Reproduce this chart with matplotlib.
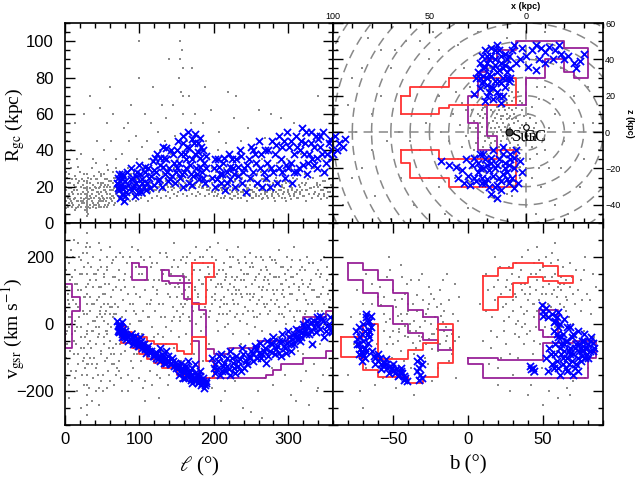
import numpy as np
import matplotlib
matplotlib.use("Agg")
import matplotlib.pyplot as plt
from matplotlib.ticker import MultipleLocator

# ---------------- data ----------------
# background stars in the (l, Rgc, vgsr) panels: (l deg, Rgc kpc, vgsr km/s)
GRAY_LRV = [
    (1,12,40),(2,18,-30),(3,25,110),(4,9,-120),(5,33,60),(6,15,180),(7,22,-80),(8,40,20),(9,11,140),
    (2,28,-160),(4,14,90),(6,19,-10),(8,30,220),(3,45,-60),(9,17,30),
    (11,10,70),(12,21,-50),(13,14,160),(14,26,10),(15,8,-140),(16,18,120),(17,31,-90),(18,12,50),
    (19,23,200),(13,55,-20),(16,35,-200),
    (21,9,100),(22,16,-40),(23,24,150),(24,12,-110),(25,19,30),(26,27,-180),(27,7,80),(28,14,230),
    (22,38,-10),(25,11,-70),
    (30,4,270),(30,6,210),(30,8,150),(30,10,90),(30,12,30),(30,14,-30),(30,16,-90),(30,18,-150),
    (30,20,-210),(30,22,-270),(31,5,120),(31,9,-60),(31,13,0),(31,17,-120),(31,25,180),(29,7,-240),
    (29,11,60),(29,15,240),(29,19,-180),(29,27,-20),
    (33,10,40),(34,22,-100),(35,14,170),(36,30,-20),(37,9,-160),(38,18,110),(39,26,60),(34,70,-50),
    (36,12,-230),(38,35,10),
    (41,8,-60),(42,15,130),(43,24,20),(44,11,-150),(45,19,80),(46,28,-30),(47,13,190),(48,21,-90),
    (49,9,50),(42,33,-200),(44,17,160),(46,10,-10),(48,26,110),(43,45,-120),(47,63,30),(45,14,240),
    (49,22,-170),
    (51,12,90),(52,20,-40),(53,27,150),(54,10,-110),(55,17,40),(56,24,-190),(57,14,200),(58,29,0),
    (59,11,-70),(52,40,60),(54,18,120),(56,55,-20),(58,21,-140),(53,13,10),(57,32,170),
    (61,16,-50),(62,23,80),(63,12,-120),(64,28,140),(65,18,20),(66,14,-180),(67,25,60),(68,20,-30),
    (69,30,110),(62,45,-90),(64,60,190),(66,19,30),(68,35,-150),
    (71,17,50),(72,22,-110),(73,15,160),(74,28,-60),(75,19,100),(76,24,-200),(77,38,20),(78,16,-20),
    (79,52,130),(74,20,210),
    (81,19,-80),(82,25,40),(83,14,180),(84,30,-150),(85,21,90),(86,45,-40),(87,18,0),(88,27,140),
    (89,65,-110),
    (91,20,60),(92,16,-130),(93,28,110),(94,22,-20),(95,48,170),(96,18,30),(97,35,-90),(98,24,220),
    (99,100,-60),
    (101,19,80),(102,26,-110),(103,17,150),(104,42,-30),(105,21,40),(106,30,190),(107,60,-170),(108,18,100),
    (111,22,-50),(112,19,130),(113,35,20),(114,25,-140),(115,55,70),(116,20,170),(117,28,-10),(118,75,110),
    (121,21,40),(122,18,-100),(123,33,180),(124,24,90),(125,50,-30),(126,20,130),(127,40,-160),(128,23,210),
    (131,22,60),(132,27,-120),(133,19,160),(134,45,20),(135,25,-60),(136,58,120),(137,21,200),(138,30,-180),
    (141,24,80),(142,20,-20),(143,38,150),(144,26,-130),(145,65,50),(146,22,190),(147,30,-70),(148,48,110),
    (151,25,40),(152,21,170),(153,80,-40),(154,90,130),(155,100,20),(156,72,-110),(157,95,90),(158,85,200),
    (155,24,-170),(156,28,60),(159,60,140),(152,35,-80),
    (161,22,100),(162,27,-30),(163,20,180),(164,45,70),(165,25,-150),(166,30,130),(167,70,20),(168,23,210),
    (169,55,-60),
    (171,24,150),(172,20,40),(173,35,-90),(174,26,190),(175,60,110),(176,22,0),(177,30,-170),(178,48,80),
    (181,21,160),(182,25,60),(183,40,-20),(184,19,120),(185,28,200),(186,55,-110),(187,23,30),(188,75,140),
    (191,20,100),(192,26,170),(193,18,20),(194,36,-60),(195,24,230),(196,62,130),(197,22,-190),(198,30,60),
    (201,17,140),(202,23,70),(203,28,190),(204,15,10),(205,40,120),(206,20,-20),(207,50,160),(208,25,50),
    (209,19,-230),
    (211,18,110),(212,24,30),(213,14,180),(214,30,80),(215,21,-10),(216,44,150),(217,17,220),(218,26,60),
    (219,72,0),
    (221,16,120),(222,22,40),(223,28,170),(224,13,90),(225,35,-30),(226,19,200),(227,58,110),(228,24,20),
    (229,15,-170),
    (231,20,140),(232,27,60),(233,14,190),(234,38,100),(235,22,10),(236,17,160),(237,45,-60),(238,25,80),
    (239,18,-250),
    (241,16,130),(242,23,50),(243,30,180),(244,12,90),(245,19,0),(246,52,150),(247,26,-30),(248,15,210),
    (249,21,70),
    (251,18,120),(252,24,40),(253,14,170),(254,32,90),(255,20,-10),(256,41,140),(257,16,200),(258,27,60),
    (259,22,-200),
    (261,15,110),(262,21,30),(263,28,160),(264,13,80),(265,35,-20),(266,18,190),(267,24,130),(268,47,50),
    (269,16,-160),
    (271,17,100),(272,23,160),(273,14,30),(274,30,120),(275,20,-30),(276,26,200),(277,60,70),(278,15,-130),
    (281,18,140),(282,12,60),(283,25,180),(284,21,10),(285,33,100),(286,16,-40),(287,40,220),(288,22,50),
    (291,14,120),(292,20,30),(293,27,170),(294,17,80),(295,45,-150),(296,23,150),(297,12,0),(298,35,200),
    (301,16,110),(302,22,40),(303,13,170),(304,30,-210),(305,19,90),(306,25,140),(307,55,20),(308,15,230),
    (311,18,70),(312,24,150),(313,14,-80),(314,29,110),(315,20,190),(316,16,40),(317,38,-170),(318,22,130),
    (321,15,90),(322,21,160),(323,27,30),(324,12,-140),(325,18,200),(326,33,110),(327,24,60),(328,16,-240),
    (331,19,130),(332,14,60),(333,25,180),(334,20,-120),(335,30,100),(336,17,20),(337,42,150),(338,22,-200),
    (341,16,80),(342,21,140),(343,26,-60),(344,13,190),(345,35,40),(346,18,-150),(347,23,110),(348,15,60),
    (350,28,-100),(352,19,170),(354,24,50),(356,30,-30),(358,20,120),(359,40,10),
    # second pass over the denser areas
    (1,20,-100),(2,8,160),(3,15,-20),(4,22,70),(5,11,-180),(6,27,20),(7,13,130),(8,19,-140),(9,24,80),
    (10,9,-30),(11,16,200),(12,13,-90),(13,20,120),(14,7,-160),(15,24,60),(16,12,-10),(17,16,240),
    (18,22,-120),(19,10,20),(20,28,150),(21,14,-70),(22,20,190),(23,11,-150),(24,17,40),(25,23,-100),
    (26,13,170),(27,19,-40),(28,9,110),(29,23,-120),(32,13,-190),(33,19,80),(34,8,130),(35,24,-70),
    (36,16,60),(37,21,-20),(38,11,200),(39,14,-100),(40,20,10),(41,24,150),(42,10,-130),(43,17,70),
    (44,22,-40),(45,9,110),(46,16,-190),(47,20,40),(48,12,170),(49,27,-80),(50,15,20),(51,22,-150),
    (52,9,140),(53,18,-60),(54,24,90),(55,12,-20),(56,20,160),(57,16,-100),(58,10,60),(59,23,120),
    (60,14,-170),(61,20,50),(62,13,-10),(63,18,180),(64,22,-70),(65,15,100),(66,25,-120),(67,11,140),
    (68,16,-60),(69,21,30),(70,19,-130),
    (72,18,130),(75,14,-160),(78,21,70),(81,16,150),(84,20,-10),(87,23,200),(90,17,-170),(93,19,40),
    (96,24,-60),(99,20,150),(102,18,10),(105,23,-190),(108,21,130),(111,19,-100),(114,22,60),
    (117,18,180),(120,25,-40),(123,20,100),(126,23,-220),(129,21,20),(132,19,150),(135,23,-10),
    (138,20,90),(141,25,-100),(144,21,170),(147,19,20),(150,23,-140),
    (153,22,110),(156,20,190),(159,24,30),(162,21,140),(165,23,80),(168,20,10),(171,25,170),(174,21,100),
    (177,23,60),(180,20,130),(183,22,20),(186,24,180),(189,21,80),(192,23,140),(195,19,40),(198,22,200),
    (201,20,90),(204,24,150),(207,18,30),(210,21,120),(213,23,60),(216,19,140),(219,22,100),(222,18,170),
    (225,21,70),(228,23,130),(231,17,30),(234,20,180),(237,22,90),(240,18,150),(243,21,110),(246,19,40),
    (249,23,170),(252,17,80),(255,21,130),(258,19,20),(261,22,150),(264,18,100),(267,20,60),(270,23,170),
    (273,18,130),(276,21,40),(279,17,100),(282,20,190),(285,23,70),(288,18,140),(291,21,90),(294,19,20),
    (297,22,130),(300,18,60),
    (304,20,140),(309,17,10),(314,21,100),(319,18,170),(324,22,40),(329,19,120),(334,16,-60),(339,21,80),
    (344,18,150),(349,23,30),(353,17,90),(357,21,-130),
    (215,20,-200),(250,18,-260),(280,22,-180),(310,17,-230),(340,20,-190),(265,24,-280),
    (60,75,30),(85,55,-30),(110,45,60),(130,65,-80),(170,85,100),(190,45,-10),(230,70,90),(260,62,-60),
    (290,58,120),(320,48,-90),(340,70,40),(25,60,80),(100,80,10),(140,90,-150),(158,70,50),
    # third pass
    (3,10,200),(5,16,-220),(8,12,0),(12,18,250),(15,20,-60),(18,9,100),(21,12,-250),(24,21,210),
    (27,16,-130),(33,15,230),(36,18,-120),(39,10,150),(42,19,-10),(45,12,-240),(48,17,220),(51,14,-200),
    (54,21,30),(57,9,-30),(60,18,230),(63,15,50),(66,10,-90),(69,17,200),(72,13,-140),(75,22,-90),
    (78,11,200),(81,14,110),(84,18,-200),(87,12,60),(90,20,230),(93,15,-90),(96,12,90),(99,18,-160),
    (102,14,200),(105,19,-40),(108,15,-230),(111,12,20),(114,17,200),(117,14,-180),(120,18,130),
    (123,15,-150),(126,17,60),(129,14,160),(132,18,-40),(135,15,210),(138,17,-130),(141,14,120),
    (144,18,10),(147,16,240),(150,15,80),
    (152,17,120),(155,19,10),(158,16,150),(161,18,60),(164,15,200),(167,18,110),(170,16,50),(173,19,160),
    (176,15,230),(179,17,90),(182,16,200),(185,19,120),(188,15,50),(191,18,220),(194,16,150),(197,17,80),
    (200,15,170),(203,18,110),(206,16,240),(209,14,70),(212,17,160),(215,15,130),(218,18,30),(221,14,200),
    (224,17,140),(227,15,60),(230,18,100),(233,16,230),(236,14,130),(239,17,30),(242,15,200),(245,18,150),
    (248,16,90),(251,14,180),(254,17,20),(257,15,140),(260,18,70),(263,16,200),(266,14,110),(269,17,140),
    (272,15,60),(275,18,150),(278,16,190),(281,14,90),(284,17,140),(287,15,30),(290,18,170),(293,16,100),
    (296,14,50),(299,17,160),(302,15,90),(305,18,190),(308,16,120),(312,14,40),(316,17,160),(320,15,120),
    (324,18,70),(328,16,180),(332,14,100),(336,17,40),(340,15,160),(344,18,90),(348,16,200),(352,14,130),
    (356,17,70),(359,15,150),
]

# stream members (blue crosses): (l deg, Rgc kpc, vgsr km/s)
BLUE_LRV = [
    (70,22,10),(71,25,-5),(72,18,-15),(73,27,0),(74,14,-20),(75,21,-10),(76,24,-30),(77,16,-25),
    (78,26,-15),(79,12,-35),(80,20,-30),(81,23,-40),(82,17,-45),(83,28,-35),(72,20,-25),(76,19,5),
    (88,30,-30),(90,18,-40),(92,25,-50),(94,15,-35),(95,22,-60),(97,28,-45),(99,20,-55),(100,32,-65),
    (102,17,-50),(104,24,-70),(106,20,-60),(108,28,-75),(93,21,-55),(101,27,-40),
    (110,22,-75),(112,30,-65),(114,19,-85),(116,26,-80),(118,34,-95),(120,21,-90),(122,28,-100),
    (124,38,-85),(126,24,-95),(128,32,-110),(130,20,-90),(132,42,-100),(134,27,-105),(136,35,-115),
    (138,23,-95),(140,30,-110),(142,40,-120),(144,26,-100),(146,33,-125),(148,22,-115),(136,41,-80),
    (127,36,-70),
    (150,30,-120),(152,45,-130),(154,25,-140),(156,38,-115),(158,48,-135),(160,28,-145),(162,35,-125),
    (164,42,-150),(166,22,-140),(168,32,-155),(170,46,-130),(172,26,-160),(174,38,-145),(176,30,-165),
    (178,44,-150),(180,24,-170),(182,36,-155),(184,28,-175),(186,40,-160),(188,22,-180),(187,33,-190),
    (175,49,-120),(165,50,-110),(158,20,-160),(182,47,-140),(190,30,-170),(170,21,-175),
    (198,25,-100),(200,30,-130),(202,20,-145),(205,35,-110),(208,27,-150),(210,22,-90),(212,33,-125),
    (215,18,-140),(218,28,-100),(220,38,-135),(222,24,-80),(225,30,-115),(228,20,-145),(230,35,-95),
    (232,26,-125),(235,40,-105),(238,22,-70),(240,30,-130),(243,17,-110),
    (247,35,-95),(250,42,-80),(252,28,-110),(255,38,-65),(258,22,-100),(260,45,-85),(262,30,-55),
    (265,20,-90),(268,40,-70),(270,25,-115),(272,33,-50),(275,20,-80),(278,45,-60),(280,28,-40),
    (282,38,-90),(285,22,-65),(288,48,-50),
    (290,35,-95),(292,42,-30),(295,25,-70),(298,50,-55),(300,30,-20),(303,45,-80),(305,22,-45),
    (308,38,-60),(310,48,-15),(312,28,-35),(315,40,-50),(318,52,-25),(320,32,0),(322,44,-20),
    (325,27,10),(328,38,-30),(330,50,5),(332,35,-60),(335,42,-10),(338,30,20),(340,46,-5),(345,38,15),
    (350,33,-20),(355,44,0),(358,40,-15),(348,28,-40),(342,48,25),
    (71,19,-20),(74,23,-5),(77,27,-40),(80,15,-20),(84,21,-50),(89,24,-45),(91,20,-60),(96,26,-50),
    (98,17,-65),(103,22,-60),(107,31,-70),(109,18,-85),(113,25,-80),(119,29,-95),(121,36,-85),
    (125,23,-105),(131,31,-95),(133,36,-115),(137,28,-110),(141,24,-120),(145,38,-110),(149,28,-130),
    (151,40,-125),(153,33,-150),(157,27,-130),(159,44,-140),(161,38,-160),(163,30,-135),(167,41,-145),
    (169,27,-165),(171,35,-150),(173,44,-165),(177,27,-155),(179,39,-175),(181,31,-165),(183,42,-180),
    (185,25,-170),(189,37,-175),(201,35,-120),(204,24,-135),(207,31,-95),(211,27,-140),(214,36,-115),
    (217,22,-125),(221,31,-150),(224,35,-100),(227,27,-130),(233,31,-110),(236,37,-140),(239,28,-90),
    (245,32,-120),(249,25,-100),(253,40,-90),(257,33,-75),(263,38,-100),(267,28,-80),(273,40,-95),
    (277,30,-55),(283,43,-75),(287,30,-85),(291,28,-50),(294,45,-65),(297,32,-85),(301,42,-40),
    (304,33,-60),(307,28,-30),(311,42,-45),(314,30,-20),(317,45,-40),(321,38,-10),(324,50,-30),
    (327,33,-5),(331,44,-20),(334,32,10),(337,48,-25),(339,36,5),(343,42,-15),(347,50,10),(352,38,-5),
    (356,46,20),(359,36,-25),
]

# background stars in the x-z plane (kpc)
GRAY_XZ = [
    (10,10),(12,5),(8,15),(15,0),(5,8),(18,12),(20,3),(3,2),(14,18),(22,8),(7,-3),(11,-8),(16,-5),
    (25,15),(2,12),(9,20),(13,-12),(19,-10),(6,5),(24,0),(1,-5),(17,22),(27,6),(4,-10),(21,-2),(-2,8),
    (-4,2),(23,18),(10,0),(15,10),(12,14),(8,-6),(18,-14),(26,-6),(0,15),(-1,-2),(14,3),(5,18),(20,20),
    (9,8),(16,15),(28,12),(11,24),(3,-14),(-3,14),(7,12),(22,-8),(13,7),(19,5),(6,-12),(24,9),(2,4),
    (17,-1),(10,16),(29,2),(15,-9),(12,-2),(8,2),(21,14),(4,22),(-5,5),(26,20),(16,8),(11,12),(14,-15),
    (9,-1),(23,3),(1,9),(18,17),(6,26),(20,-12),(13,21),(7,7),(25,-3),(3,17),(0,0),(-3,-8),(27,-10),
    (10,-13),(19,24),
    (5,-20),(10,-25),(15,-22),(20,-28),(8,-30),(12,-18),(18,-20),(3,-25),(22,-17),(14,-32),(0,-20),
    (-2,-15),(7,-35),(16,-38),
    (12,30),(18,35),(8,40),(22,28),(15,42),(25,32),(10,36),(20,45),
    (40,30),(50,40),(60,20),(70,35),(55,-10),(45,-30),(65,-25),(80,10),(85,-20),(75,45),(90,30),
    (95,-40),(35,48),(48,55),(62,50),(30,-42),(42,-45),(58,-40),(72,-5),(88,0),(38,10),(52,5),(66,0),
    (78,-35),(92,15),(45,20),(35,-15),(-10,25),(-15,10),(-20,-5),(-12,-20),(-25,20),(-30,-15),(-35,5),
    (-8,-30),(-18,35),(-28,-30),(-5,40),(0,-40),(-15,-40),(-38,-10),(-22,-45),(25,55),(10,52),
    (-10,55),(82,52),(98,45),(70,-48),(55,25),(40,-5),(32,35),(-6,-12),(-9,-4),(-7,18),(36,22),
    (33,-8),(-12,2),(31,12),(34,4),
    (11,3),(13,9),(9,13),(17,6),(6,-1),(19,15),(14,12),(8,9),(21,10),(4,6),(12,18),(16,2),(10,-4),
    (7,17),(18,-6),(22,13),(5,13),(15,5),(13,-5),(20,8),(3,-3),(24,5),(11,20),(17,11),(9,4),(14,-8),
    (6,10),(19,-3),(23,12),(1,3),(12,9),(16,19),(8,-9),(21,-5),(2,16),(25,10),(10,7),(18,2),(7,22),
    (15,14),(26,2),(-1,10),(13,1),(20,16),(4,-7),(22,-11),(9,24),(17,-10),(27,15),(0,5),
    (8,-18),(13,-20),(18,-25),(6,-27),(11,-30),(16,-26),(21,-22),(3,-19),(24,-24),(10,-34),
    (14,26),(18,28),(10,28),(22,24),(16,32),
    (-7,-20),(-10,-10),(-6,25),(-14,18),(28,-20),(31,-2),(33,16),(37,-25),(-3,-25),(29,25),
    (60,-5),(75,20),(85,35),(50,-25),(68,45),(44,0),(-18,-20),(-25,5),(-32,25),(-5,-45),(55,50),
    (80,-10),(90,-25),(65,10),(45,45),
]

BLUE_XZ = [
    (20,20),(18,25),(15,22),(22,28),(12,30),(25,33),(17,35),(10,40),(20,38),(14,45),(8,35),(23,42),
    (16,28),(19,32),(11,25),(24,24),(13,38),(21,45),(9,28),(15,48),(18,42),(7,45),(22,35),(12,20),
    (26,30),(17,18),(10,33),(20,30),(14,34),(16,40),(8,30),(5,38),(19,22),(13,27),(24,38),(11,43),
    (6,48),(27,21),(13,16),(21,17),
    (17,24),(14,28),(20,26),(12,35),(18,31),(22,31),(16,37),(10,30),(19,40),(13,42),(21,36),(15,33),
    (23,27),(11,37),(18,46),(9,42),(24,30),(14,20),(20,42),(16,45),
    (0,42),(-3,45),(-5,48),(-8,46),(-10,44),(-12,47),(-15,45),(-18,43),(-20,40),(-22,42),(-25,38),
    (-28,39),(-30,43),(-26,35),(-10,38),(-5,34),(-1,36),(2,46),(-14,40),(-17,48),(3,40),(-7,40),
    (5,-10),(8,-15),(12,-12),(15,-18),(18,-14),(22,-20),(10,-22),(14,-25),(20,-26),(25,-22),(6,-20),
    (9,-28),(16,-30),(23,-28),(28,-18),(30,-24),(3,-16),(11,-17),(19,-21),(26,-27),(13,-32),(17,-10),
    (7,-25),(21,-15),(24,-12),(29,-29),(33,-21),(36,-19),(40,-18),(44,-16),(32,-28),(4,-28),(2,-22),
    (15,-36),(18,-34),(27,-14),(12,-8),(6,-31),(31,-15),(35,-25),
    (8,-12),(11,-20),(14,-15),(17,-24),(20,-18),(23,-25),(9,-18),(13,-27),(16,-20),(19,-30),(22,-12),
    (25,-17),(27,-25),(6,-14),(10,-26),(18,-17),(21,-28),(15,-29),(24,-20),(12,-23),
    (99,-2),(97,-6),(98,-10),(95,-8),(100,-12),(94,-4),
]

# background stars in the (b, vgsr) panel
GRAY_BV = [
    (-80,-150),(-78,20),(-76,-60),(-74,100),(-72,-200),(-70,60),(-68,150),(-66,-30),(-64,120),
    (-62,-180),(-60,80),(-58,-110),(-56,30),(-54,-60),(-52,160),(-50,-20),(-48,50),(-46,-140),
    (-44,10),(-42,90),(-40,-40),(-38,130),(-36,-90),(-34,40),(-32,-10),(-30,70),(-28,-60),(-26,110),
    (-24,-30),(-22,20),(-20,-130),(-18,60),(-16,-20),(-14,150),(-12,-70),(-10,30),(-8,-160),(-6,80),
    (-55,5),(-45,-80),(-35,-20),(-25,0),(-15,-50),(-50,100),(-40,60),(-30,20),(-20,-80),(-60,-5),
    (-47,25),(-37,-55),(-27,45),(-17,5),(-42,-5),(-33,-35),(-23,75),(-13,-110),(-52,-40),(-44,140),
    (-38,-130),(-29,-100),(-19,100),(-11,-30),(-65,-90),(-57,-160),(-48,-190),(-36,-210),(-24,-170),
    (-70,-250),(-45,175),(-53,200),(-31,150),(-41,30),(-26,-45),(-34,85),(-21,-15),(-46,-25),(-39,0),
    (-58,55),(-16,40),(-9,-50),(-7,10),
    (-72,30),(-68,-130),(-64,60),(-61,-60),(-59,110),(-56,-20),(-54,140),(-51,-100),(-49,70),(-47,-50),
    (-45,30),(-43,-110),(-41,120),(-39,-20),(-37,60),(-35,-70),(-33,130),(-31,-40),(-29,10),(-27,-120),
    (-25,90),(-23,-30),(-21,50),(-19,-60),(-17,130),(-15,-10),(-13,70),(-11,-90),(-9,120),(-6,-40),
    (-52,15),(-46,-15),(-40,40),(-36,10),(-32,-50),(-28,30),(-24,-75),(-18,25),(-14,-35),(-44,75),
    (-50,-60),(-56,80),(-62,0),(-42,-35),(-26,60),
    (8,60),(10,-50),(12,150),(14,-120),(16,20),(18,200),(20,-180),(22,90),(24,-20),(26,130),(28,-90),
    (30,40),(32,180),(34,-40),(36,100),(38,0),(40,220),(42,-150),(44,60),(46,130),(48,-60),(50,170),
    (52,20),(54,-110),(56,90),(58,240),(60,-30),(62,140),(64,50),(66,-190),(68,110),(70,0),(72,160),
    (74,-80),(76,70),(78,200),(80,-130),(82,30),(84,-40),(25,60),(28,100),(32,80),(35,50),(38,120),
    (41,90),(44,20),(47,70),(50,110),(53,60),(56,140),(59,80),(62,100),(65,40),(68,180),(33,10),
    (36,-10),(39,40),(42,150),(45,100),(48,160),(51,-10),(54,120),(57,30),(60,190),(63,-60),(30,-150),
    (40,-210),(50,-240),(60,-220),(70,-170),(20,130),(15,-70),(18,70),(22,-100),(27,170),(31,-30),
    (43,-90),(55,-160),(67,-120),(75,130),(79,90),(83,150),(86,-80),(34,140),(46,40),(52,200),
    (58,-10),(61,60),(37,-60),(49,-130),(24,10),(13,100),(71,60),(77,-20),(64,120),(44,180),(29,120),
    (41,-20),
    (12,40),(15,-20),(17,110),(19,-40),(21,170),(23,50),(25,-60),(27,20),(29,150),(31,90),(33,-100),
    (35,160),(37,30),(39,-30),(41,110),(43,60),(45,-10),(47,190),(49,90),(51,140),(53,-40),(55,50),
    (57,100),(59,-80),(61,120),(63,170),(65,80),(67,20),(69,140),(71,-40),(73,100),(75,40),(77,160),
    (79,-60),(81,70),(83,-100),(85,110),
    (30,70),(35,120),(40,70),(45,150),(50,60),(55,180),(60,110),(65,130),(70,90),(25,110),(32,0),
    (38,90),(44,-50),(48,30),(52,90),(58,150),(62,-10),(66,70),(36,200),(46,230),(56,210),(20,-130),
    (28,-200),(42,-180),(54,-200),(68,-210),(78,-160),
]

BLUE_BV = [
    (-75,-20),(-74,-60),(-73,-90),(-72,-40),(-71,-110),(-70,0),(-69,-70),(-68,20),(-67,-30),(-66,10),
    (-73,-10),(-70,-50),(-68,-80),(-66,-20),(-72,-75),(-69,-100),(-67,5),(-65,25),(-71,-30),(-74,-45),
    (-65,-10),(-68,30),(-73,-60),(-71,-85),(-69,-20),(-67,-55),(-70,-95),(-66,-40),
    (-64,-80),(-62,-100),(-60,-110),(-58,-120),(-56,-115),(-54,-130),(-52,-125),(-50,-140),(-48,-135),
    (-46,-150),(-44,-145),(-42,-160),(-41,-170),(-60,-90),(-55,-105),(-50,-120),(-45,-130),(-58,-135),
    (-53,-145),(-47,-155),(-43,-165),(-62,-120),(-57,-125),(-55,-120),(-51,-130),(-49,-145),(-45,-140),
    (-43,-155),(-63,-95),(-59,-100),
    (-34,-110),(-33,-130),(-32,-150),(-31,-120),(-33,-165),(-32,-100),(-34,-140),(-31,-160),
    (41,-125),(43,-130),(44,-140),(42,-135),
    (49,55),(50,40),(52,48),(51,30),(53,22),(50,25),
    (56,30),(58,10),(57,-20),(60,-40),(59,20),(62,-60),(61,0),(64,-80),(63,-30),(66,-100),(65,-50),
    (68,-70),(67,-120),(70,-90),(69,-40),(72,-60),(71,-130),(74,-80),(73,-20),(76,-50),(75,-110),
    (78,-70),(77,-30),(80,-60),(79,-90),(82,-40),(81,-80),(84,-70),(55,-90),(57,-130),(59,-110),
    (61,-150),(63,-120),(54,-70),(52,-100),(58,-60),(62,-90),(66,-10),(70,-150),(73,-140),(64,15),
    (60,35),(66,-140),(68,-10),(76,-95),(80,-100),(83,-55),(56,-120),(53,-140),
    (57,5),(59,-30),(61,-70),(63,-100),(65,-130),(67,-80),(69,-110),(71,-70),(73,-100),(75,-70),
    (77,-50),(79,-70),(81,-50),(83,-80),(60,-10),(62,-40),(64,-60),(66,-50),(68,-90),(70,-30),
    (72,-120),(74,-60),(76,-80),(78,-100),(58,-90),(60,-130),
]

# selection boxes (stepped outlines)
LV_PURPLE = [
    [(0,120),(10,120),(10,80),(20,80),(20,40),(10,40),(10,-70),(0,-70)],
    [(90,180),(100,180),(100,170),(110,170),(110,130),(90,130)],
    [(130,160),(140,160),(140,143),(160,143),(160,121),(170,121),(170,61),(180,61),(180,42),(190,42),
     (190,-74),(200,-74),(200,-90),(220,-90),(220,-70),(260,-70),(260,-50),(300,-50),(300,-35),
     (310,-35),(310,-12),(320,-12),(320,20),(350,20),(350,40),(360,40),(360,-80),(350,-80),(350,-100),
     (320,-100),(320,-120),(290,-120),(290,-137),(280,-137),(280,-150),(270,-150),(270,-161),
     (180,-161),(180,-50),(170,-50),(170,74),(160,74),(160,121),(140,121),(140,129),(130,129)],
]
LV_RED = [
    [(170,180),(200,180),(200,140),(190,140),(190,60),(170,60)],
    [(80,-5),(80,-25),(90,-25),(90,-40),(110,-40),(110,-50),(120,-50),(120,-60),(150,-60),(150,-80),
     (160,-80),(160,-90),(170,-90),(170,-40),(190,-40),(190,-110),(200,-110),(200,-160),(190,-160),
     (190,-170),(170,-170),(170,-160),(160,-160),(160,-150),(150,-150),(150,-130),(130,-130),
     (130,-115),(120,-115),(120,-105),(110,-105),(110,-90),(100,-90),(100,-70),(90,-70),(90,-55),
     (75,-55),(75,-5)],
]
XZ_PURPLE = [
    [(20,40),(15,40),(15,45),(5,45),(5,50),(-20,50),(-20,46),(-32,46),(-32,30),(-25,30),(-25,33),
     (-20,33),(-20,40),(-10,40),(-10,30),(0,30),(0,15),(20,15),(20,-2),(15,-2),(15,-10),(25,-10),
     (25,5),(30,5),(30,20),(25,20),(25,33),(20,33)],
]
XZ_RED = [
    [(65,20),(60,20),(60,25),(40,25),(40,30),(5,30),(5,15),(40,15),(40,13),(45,13),(45,10),(65,10)],
    [(65,-10),(45,-10),(45,-15),(15,-15),(15,-10),(5,-10),(5,-30),(40,-30),(40,-25),(60,-25),(60,-17),
     (65,-17)],
]
BV_PURPLE = [
    [(-80,180),(-70,180),(-70,160),(-60,160),(-60,131),(-50,131),(-50,91),(-40,91),(-40,42),(-30,42),
     (-30,22),(-20,22),(-20,-18),(-10,-18),(-10,-77),(-20,-77),(-20,-48),(-30,-48),(-30,-28),(-40,-28),
     (-40,1),(-50,1),(-50,52),(-60,52),(-60,91),(-70,91),(-70,131),(-80,131)],
    [(47,42),(60,42),(60,-38),(50,-38),(50,-18),(47,-18)],
    [(0,-100),(20,-100),(20,-107),(50,-107),(50,-57),(70,-57),(70,-50),(85,-50),(85,-100),(80,-100),
     (80,-160),(10,-160),(10,-120),(0,-120)],
]
BV_RED = [
    [(-85,-38),(-70,-38),(-70,1),(-60,1),(-60,-105),(-40,-105),(-40,-77),(-30,-77),(-30,-57),(-20,-57),
     (-20,1),(-10,1),(-10,-117),(-20,-117),(-20,-156),(-30,-156),(-30,-176),(-40,-176),(-40,-156),
     (-60,-156),(-60,-137),(-70,-137),(-70,-97),(-85,-97)],
    [(10,144),(20,144),(20,165),(30,165),(30,180),(50,180),(50,173),(60,173),(60,144),(70,144),
     (70,121),(60,121),(60,129),(50,129),(50,139),(40,139),(40,121),(30,121),(30,79),(20,79),(20,43),
     (10,43)],
]
CIRCLE_RADII = [10, 20, 30, 40, 50, 60, 70, 80, 90, 100, 110, 120, 130, 140]
SUN_XZ = (8.5, 0.0)
GC_XZ = (0.0, 2.8)

# ---------------- styling ----------------
GRAY, BLUE, RED, PURPLE = "#8a8a8a", "#0000ff", "#ff3333", "#992299"
plt.rcParams["font.family"] = ["Liberation Sans", "DejaVu Sans"]
plt.rcParams["mathtext.fontset"] = "stix"
SERIF = ["Liberation Serif", "DejaVu Serif"]

W, H = 640, 479
fig = plt.figure(figsize=(W / 100, H / 100), dpi=100)


def box(x0, y0, x1, y1):
    return [x0 / W, 1 - y1 / H, (x1 - x0) / W, (y1 - y0) / H]


ax_tl = fig.add_axes(box(65, 23, 333, 223))
ax_tr = fig.add_axes(box(333, 23, 603, 223))
ax_bl = fig.add_axes(box(65, 223, 333, 425))
ax_br = fig.add_axes(box(333, 223, 603, 425))

glrv = np.array(GRAY_LRV, float)
blrv = np.array(BLUE_LRV, float)
gxz = np.array(GRAY_XZ, float)
bxz = np.array(BLUE_XZ, float)
gbv = np.array(GRAY_BV, float)
bbv = np.array(BLUE_BV, float)


def draw(ax, gray, blue, purple, red):
    ax.scatter(gray[:, 0], gray[:, 1], s=3, marker="s", c=GRAY, lw=0, zorder=1)
    for poly in purple:
        p = np.array(poly + [poly[0]], float)
        ax.plot(p[:, 0], p[:, 1], color=PURPLE, lw=1.3, zorder=2)
    for poly in red:
        p = np.array(poly + [poly[0]], float)
        ax.plot(p[:, 0], p[:, 1], color=RED, lw=1.3, zorder=2)
    ax.scatter(blue[:, 0], blue[:, 1], s=26, marker="x", c=BLUE, lw=1.3, zorder=3)


draw(ax_tl, glrv[:, [0, 1]], blrv[:, [0, 1]], [], [])
draw(ax_bl, glrv[:, [0, 2]], blrv[:, [0, 2]], LV_PURPLE, LV_RED)
draw(ax_br, gbv, bbv, BV_PURPLE, BV_RED)

# x-z panel: dashed rings, axes lines, then points
t = np.linspace(0, 2 * np.pi, 500)
for r in CIRCLE_RADII:
    ax_tr.plot(r * np.cos(t), r * np.sin(t), color="#888888", lw=1.1,
               ls=(0, (6, 4)), zorder=0.5)
ax_tr.axhline(0, color="#888888", lw=1.1, ls=(0, (6, 4)), zorder=0.5)
ax_tr.axvline(0, color="#888888", lw=1.1, ls=(0, (6, 4)), zorder=0.5)
draw(ax_tr, gxz, bxz, XZ_PURPLE, XZ_RED)
ax_tr.plot(*SUN_XZ, marker="o", ms=5, mfc="#444444", mec="k", mew=0.8, zorder=4)
ax_tr.plot(*GC_XZ, marker="o", ms=4, mfc="white", mec="k", mew=0.8, zorder=4)
ax_tr.text(7.3, -2.5, "Sun", family=SERIF, fontsize=12, ha="left", va="center", zorder=5)
ax_tr.text(1.5, -2.5, "GC", family=SERIF, fontsize=12, ha="left", va="center", zorder=5)

# ---------------- axes ----------------
ax_tl.set_xlim(0, 360); ax_bl.set_xlim(0, 360)
ax_tl.set_ylim(0, 110)
ax_bl.set_ylim(-300, 300); ax_br.set_ylim(-300, 300)
ax_br.set_xlim(-90, 90)
ax_tr.set_xlim(100, -40); ax_tr.set_ylim(-50, 60)

for ax in (ax_tl, ax_bl):
    ax.xaxis.set_major_locator(MultipleLocator(100))
    ax.xaxis.set_minor_locator(MultipleLocator(20))
ax_tl.yaxis.set_major_locator(MultipleLocator(20))
ax_tl.yaxis.set_minor_locator(MultipleLocator(5))
for ax in (ax_bl, ax_br):
    ax.yaxis.set_major_locator(MultipleLocator(200))
    ax.yaxis.set_minor_locator(MultipleLocator(50))
ax_br.xaxis.set_major_locator(MultipleLocator(50))
ax_br.xaxis.set_minor_locator(MultipleLocator(10))
ax_tr.xaxis.set_major_locator(MultipleLocator(50))
ax_tr.xaxis.set_minor_locator(MultipleLocator(10))
ax_tr.yaxis.set_major_locator(MultipleLocator(20))
ax_tr.yaxis.set_minor_locator(MultipleLocator(5))

for ax in (ax_tl, ax_tr, ax_bl, ax_br):
    for s in ax.spines.values():
        s.set_linewidth(1.2)
    ax.tick_params(which="both", direction="in", top=True, right=True, width=1.0)
    ax.tick_params(which="major", length=7, labelsize=12)
    ax.tick_params(which="minor", length=3.5)

ax_tl.tick_params(labelbottom=False, pad=8)
ax_bl.tick_params(axis="x", pad=5)
ax_bl.tick_params(axis="y", pad=8)
ax_br.tick_params(labelleft=False, axis="y")
ax_br.tick_params(axis="x", pad=5)
ax_tr.tick_params(labelleft=False, labelbottom=False, labeltop=True, labelright=True,
                  labelsize=6.5, pad=1.5)

ax_tl.set_ylabel(r"R$_{\rm gc}$ (kpc)", family=SERIF, fontsize=14)
ax_tl.yaxis.set_label_coords(-0.14, 0.49)
ax_bl.set_ylabel(r"v$_{\rm gsr}$ (km s$^{-1}$)", family=SERIF, fontsize=14)
ax_bl.yaxis.set_label_coords(-0.14, 0.48)
ax_bl.set_xlabel(r"$\ell$ (°)", family=SERIF, fontsize=15)
ax_bl.xaxis.set_label_coords(0.5, -0.15)
ax_br.set_xlabel("b (°)", family=SERIF, fontsize=15)
ax_br.xaxis.set_label_coords(0.5, -0.15)
ax_tr.xaxis.set_label_position("top")
ax_tr.set_xlabel("x (kpc)", fontsize=6.5, fontweight="bold")
ax_tr.xaxis.set_label_coords(0.715, 1.07)
ax_tr.yaxis.set_label_position("right")
ax_tr.set_ylabel("z (kpc)", fontsize=6.5, fontweight="bold", rotation=270, labelpad=10)

fig.savefig("out.png", dpi=100)
